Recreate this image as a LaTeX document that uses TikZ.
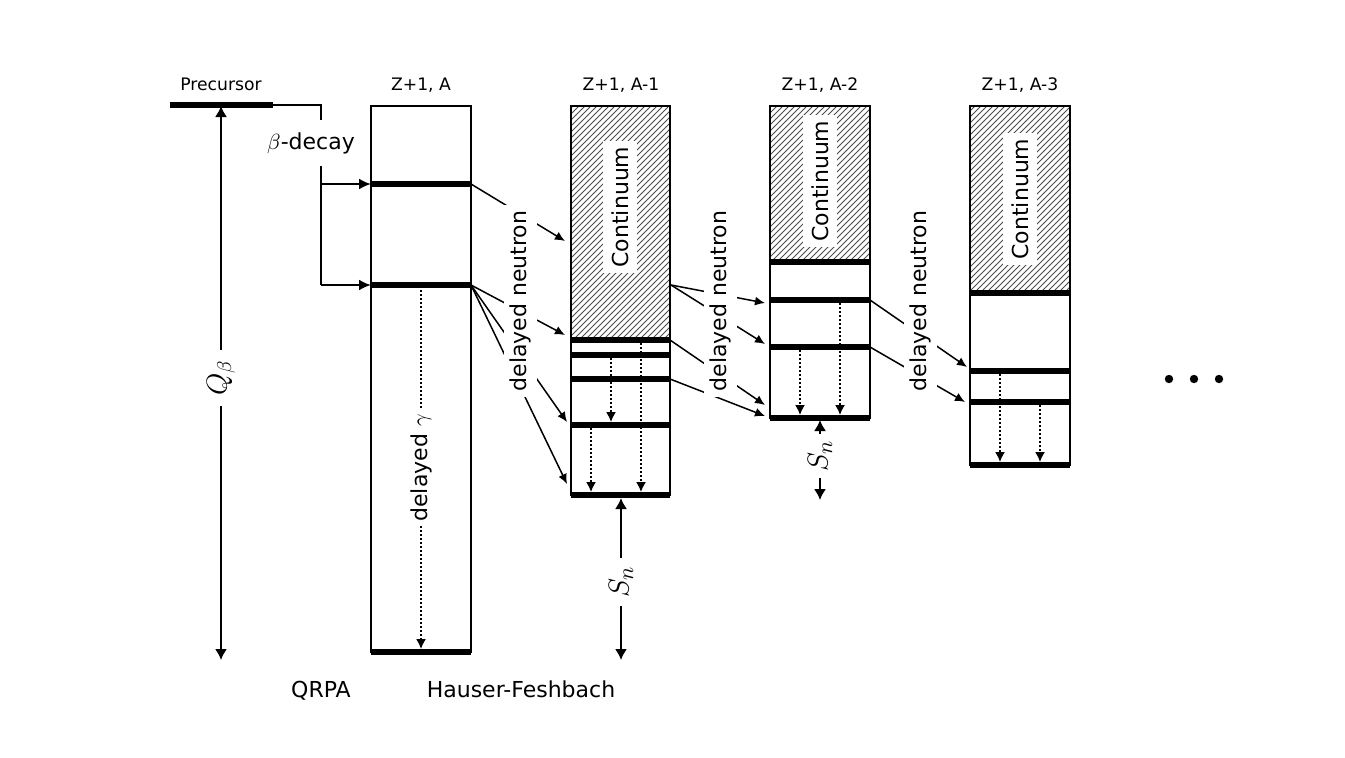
\documentclass[tikz,border=0pt]{standalone}
\usepackage{fontspec}
\setmainfont{DejaVu Sans}
\usetikzlibrary{arrows.meta,patterns,positioning}

\tikzset{
  boxline/.style={line width=0.85pt},
  lvl/.style={line width=2.8pt},
  feed/.style={line width=1.1pt,-{Latex[length=6pt,width=5.5pt]}},
  ruler/.style={line width=0.85pt,{Latex[length=5.5pt,width=6pt]}-{Latex[length=5.5pt,width=6pt]}},
  neutron/.style={line width=0.75pt,-{Latex[length=5pt,width=4.5pt]}},
  gammaline/.style={line width=0.75pt,dash pattern=on 0.75pt off 1.25pt,-{Latex[length=5pt,width=5pt]}},
  gap/.style={fill=white,inner sep=3pt},
  small/.style={font=\fontsize{8.6}{10}\selectfont,anchor=base},
  big/.style={font=\fontsize{11}{13}\selectfont},
  continuum/.style={pattern=north east lines,pattern color=black!70},
  contlabel/.style={gap,big,rotate=90,inner ysep=4pt},
}

\begin{document}
\begin{tikzpicture}[x=0.5pt,y=-0.5pt]
\useasboundingbox (0,0) rectangle (1345,757);

% column titles
\node[small] (tprec) at (221,90) {Precursor};
\node[small] (tA0) at (421,90) {Z+1, A};
\node[small] (tA1) at (621,90) {Z+1, A-1};
\node[small] (tA2) at (820,90) {Z+1, A-2};
\node[small] (tA3) at (1020,90) {Z+1, A-3};

% precursor level and beta feeding
\coordinate (prec) at (170,105);
\coordinate (precend) at (273,105);
\coordinate (corner) at (321,105);
\coordinate (feedA) at (321,184);
\coordinate (feedB) at (321,285);
\draw[lvl] (prec) -- (precend);
\draw[line width=1.1pt] (precend) -- (corner) -- (feedB);

% Q_beta window
\coordinate (qtop) at (221,106);
\coordinate (qbot) at (221,660);
\draw[ruler] (qtop) -- (qbot);
\node[gap,inner xsep=5pt,rotate=90,font=\fontsize{14.5}{17}\selectfont] (qbeta) at (221,378) {$Q_\beta$};

% Z+1, A
\draw[boxline] (371,106) rectangle (471,652);
\foreach \y/\n in {184/1,285/2,652/3}
	\draw[lvl] (371,\y) coordinate (A0l\n) -- (471,\y) coordinate (A0r\n);
\draw[feed] (feedA) -- (A0l1);
\draw[feed] (feedB) -- (A0l2);
\node[gap,big,inner sep=6pt] (betadecay) at (311,143) {$\beta$-decay};

\coordinate (g0a) at (421,290);
\coordinate (g0b) at (421,649);
\draw[gammaline] (g0a) -- (g0b);
\node[gap,big,rotate=90,inner xsep=2pt] (dgamma) at (421,468) {delayed $\gamma$};

% Z+1, A-1
\path[continuum] (571,106) rectangle (670,340);
\draw[boxline] (571,106) rectangle (670,495);
\foreach \y/\n in {340/1,355/2,379/3,425/4,495/5}
	\draw[lvl] (571,\y) coordinate (A1l\n) -- (670,\y) coordinate (A1r\n);
\node[contlabel] (cont1) at (620,207) {Continuum};
\foreach \x/\ya/\yb in {611/358/422, 641/343/492, 591/428/492}
	\draw[gammaline] (\x,\ya) -- (\x,\yb);

\coordinate (sn1a) at (621,498);
\coordinate (sn1b) at (621,660);
\draw[ruler] (sn1a) -- (sn1b);
\node[gap,inner xsep=4pt,rotate=90,font=\fontsize{15}{18}\selectfont] (sn1) at (621,582) {$S_n$};

% Z+1, A-2
\path[continuum] (770,106) rectangle (870,262);
\draw[boxline] (770,106) rectangle (870,418);
\draw[line width=1.3pt] (770,106) -- (870,106);
\foreach \y/\n in {262/1,300/2,347/3,418/4}
	\draw[lvl] (770,\y) coordinate (A2l\n) -- (870,\y) coordinate (A2r\n);
\node[contlabel] (cont2) at (820,181) {Continuum};
\foreach \x/\ya/\yb in {840/303/415, 800/350/415}
	\draw[gammaline] (\x,\ya) -- (\x,\yb);

\coordinate (sn2a) at (820,420);
\coordinate (sn2b) at (820,500);
\draw[ruler] (sn2a) -- (sn2b);
\node[gap,inner xsep=3pt,rotate=90,font=\fontsize{15}{18}\selectfont] (sn2) at (820,456) {$S_n$};

% Z+1, A-3
\path[continuum] (970,106) rectangle (1070,293);
\draw[boxline] (970,106) rectangle (1070,465);
\foreach \y/\n in {293/1,371/2,402/3,465/4}
	\draw[lvl] (970,\y) coordinate (A3l\n) -- (1070,\y) coordinate (A3r\n);
\node[contlabel] (cont3) at (1020,199) {Continuum};
\foreach \x/\ya/\yb in {1000/374/462, 1040/405/462}
	\draw[gammaline] (\x,\ya) -- (\x,\yb);

% delayed neutron emission
\coordinate (A1in1) at (565,241);
\coordinate (A1in2) at (565,335);
\coordinate (A1in3) at (567,422);
\coordinate (A1in4) at (567,484);
\draw[neutron] (A0r1) -- (A1in1);
\foreach \n in {2,3,4}
	\draw[neutron] (A0r2) -- (A1in\n);
\node[gap,big,rotate=90] (dn1) at (520.5,301) {delayed neutron};

\coordinate (A1out) at (671,285);
\coordinate (A2in1) at (765,303);
\coordinate (A2in2) at (765,344);
\coordinate (A2in3) at (765,405);
\coordinate (A2in4) at (765,416);
\draw[neutron] (A1out) -- (A2in1);
\draw[neutron] (A1out) -- (A2in2);
\draw[neutron] (A1r1) -- (A2in3);
\draw[neutron] (A1r3) -- (A2in4);
\node[gap,big,rotate=90] (dn2) at (720.5,301) {delayed neutron};

\coordinate (A3in1) at (967,367);
\coordinate (A3in2) at (965,402);
\draw[neutron] (A2r2) -- (A3in1);
\draw[neutron] (A2r3) -- (A3in2);
\node[gap,big,rotate=90] (dn3) at (920.5,301) {delayed neutron};

% and so on
\foreach \x in {1169,1194,1219}
	\fill (\x,379) circle (2.1pt);

% models
\node[big,anchor=base] (qrpa) at (321,697) {QRPA};
\node[big,anchor=base] (hf) at (521,697) {Hauser-Feshbach};

\end{tikzpicture}
\end{document}
